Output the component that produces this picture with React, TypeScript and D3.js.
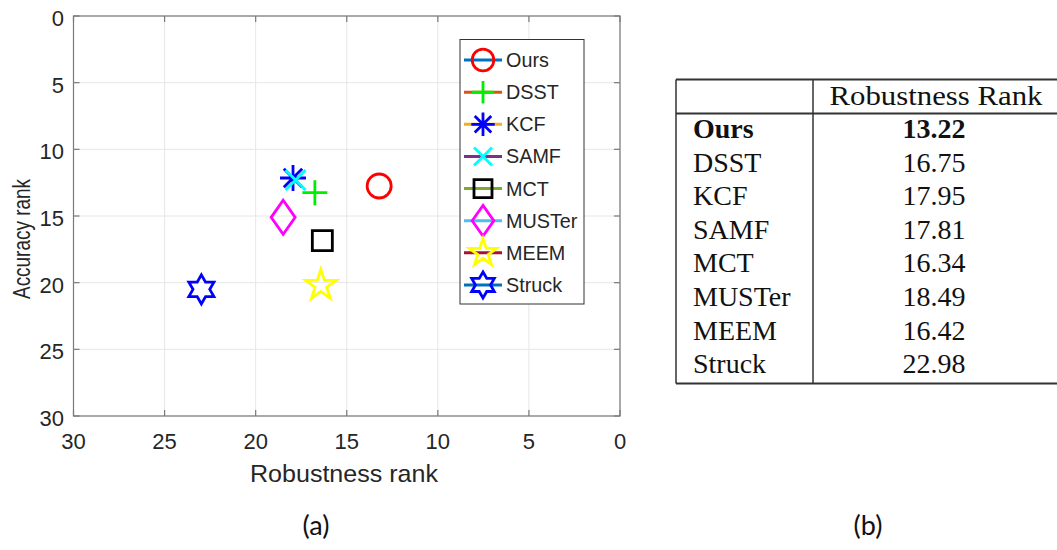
import React from "react";
import * as d3 from "d3";

// Tracker results: robustness rank (x) and accuracy rank (y)
const trackers = ["Ours", "DSST", "KCF", "SAMF", "MCT", "MUSTer", "MEEM", "Struck"];
const robustness = [13.22, 16.75, 17.95, 17.81, 16.34, 18.49, 16.42, 22.98];
const accuracy = [12.75, 13.25, 12.15, 12.3, 16.85, 15.1, 20.2, 20.5];
const markerShapes = ["circle", "plus", "asterisk", "cross", "square", "diamond", "pentagram", "hexagram"];
const markerColors = ["#ff0000", "#00ee00", "#0000ff", "#00ffff", "#000000", "#ff00ff", "#ffff00", "#0000ff"];
const lineColors = ["#0072bd", "#d95319", "#edb120", "#7e2f8e", "#77ac30", "#4dbeee", "#a2142f", "#0072bd"];
const axisTicks = [0, 5, 10, 15, 20, 25, 30];
const tableHeader = "Robustness Rank";
const panelLabels = ["(a)", "(b)"];

const W = 1057;
const H = 550;
const plot = { left: 73.5, right: 620, top: 16, bottom: 416 };

const x = d3.scaleLinear().domain([30, 0]).range([plot.left, plot.right]);
const y = d3.scaleLinear().domain([0, 30]).range([plot.top, plot.bottom]);

// Stroke-only marker shapes; the "size" passed in is used as the radius.
type Sym = d3.SymbolType;
const starPoly = (ctx: any, n: number, R: number, r: number) => {
  for (let i = 0; i < 2 * n; i++) {
    const a = -Math.PI / 2 + (i * Math.PI) / n;
    const rad = i % 2 === 0 ? R : r;
    const px = rad * Math.cos(a);
    const py = rad * Math.sin(a);
    if (i === 0) ctx.moveTo(px, py);
    else ctx.lineTo(px, py);
  }
  ctx.closePath();
};
const symbols: Record<string, Sym> = {
  circle: { draw(ctx, r) { ctx.moveTo(r, 0); ctx.arc(0, 0, r, 0, 2 * Math.PI); } },
  plus: { draw(ctx, r) { ctx.moveTo(-r, 0); ctx.lineTo(r, 0); ctx.moveTo(0, -r); ctx.lineTo(0, r); } },
  asterisk: {
    draw(ctx, r) {
      const d = r / Math.SQRT2;
      ctx.moveTo(-r, 0); ctx.lineTo(r, 0); ctx.moveTo(0, -r); ctx.lineTo(0, r);
      ctx.moveTo(-d, -d); ctx.lineTo(d, d); ctx.moveTo(-d, d); ctx.lineTo(d, -d);
    },
  },
  cross: { draw(ctx, r) { ctx.moveTo(-r, -r); ctx.lineTo(r, r); ctx.moveTo(-r, r); ctx.lineTo(r, -r); } },
  square: { draw(ctx, r) { ctx.moveTo(-r, -r); ctx.lineTo(r, -r); ctx.lineTo(r, r); ctx.lineTo(-r, r); ctx.closePath(); } },
  diamond: {
    draw(ctx, r) {
      const h = r * 1.42;
      ctx.moveTo(0, -h); ctx.lineTo(r, 0); ctx.lineTo(0, h); ctx.lineTo(-r, 0); ctx.closePath();
    },
  },
  pentagram: { draw(ctx, R) { starPoly(ctx, 5, R, R * 0.382); } },
  hexagram: { draw(ctx, R) { starPoly(ctx, 6, R, R / Math.sqrt(3)); } },
};
const markerRadius: Record<string, number> = {
  circle: 12, plus: 12.5, asterisk: 13, cross: 10, square: 10, diamond: 12, pentagram: 16, hexagram: 14.5,
};
const markerPath = (shape: string, k = 1) =>
  d3.symbol().type(symbols[shape]).size(markerRadius[shape] * k)() as string;

const AXIS = "#7a7a7a";
const GRID = "#e6e6e6";
const TEXT = "#262626";
const SANS = "'Liberation Sans', Arial, Helvetica, sans-serif";
const SERIF = "'Liberation Serif', 'Times New Roman', serif";

// legend geometry
const legend = { x0: 460, x1: 584, y0: 39.5, y1: 304, row0: 60, step: 32.14 };
// table geometry
const table = { x0: 676, sep: 813, x1: 1057, top: 79.5, head: 113.5, bottom: 383.5, row0: 129, step: 33.6, nameX: 693, valX: 934 };

export default function App() {
  return (
    <div style={{ position: "absolute", left: 0, top: 0 }}>
      <svg width={W} height={H} viewBox={`0 0 ${W} ${H}`} style={{ display: "block", background: "#fff" }}>
        <rect width={W} height={H} fill="#fff" />
        {/* grid */}
        {axisTicks.map((t) => (
          <g key={`g${t}`}>
            <line x1={x(t)} x2={x(t)} y1={plot.top} y2={plot.bottom} stroke={GRID} strokeWidth={1} />
            <line x1={plot.left} x2={plot.right} y1={y(t)} y2={y(t)} stroke={GRID} strokeWidth={1} />
          </g>
        ))}
        {/* axes box and ticks */}
        <rect x={plot.left} y={plot.top} width={plot.right - plot.left} height={plot.bottom - plot.top} fill="none" stroke={AXIS} strokeWidth={1.2} />
        {axisTicks.map((t) => (
          <g key={`t${t}`}>
            <line x1={x(t)} x2={x(t)} y1={plot.bottom} y2={plot.bottom - 6} stroke={AXIS} strokeWidth={1.2} />
            <line x1={x(t)} x2={x(t)} y1={plot.top} y2={plot.top + 6} stroke={AXIS} strokeWidth={1.2} />
            <line x1={plot.left} x2={plot.left + 6} y1={y(t)} y2={y(t)} stroke={AXIS} strokeWidth={1.2} />
            <line x1={plot.right} x2={plot.right - 6} y1={y(t)} y2={y(t)} stroke={AXIS} strokeWidth={1.2} />
            <text x={x(t)} y={plot.bottom + 33} textAnchor="middle" fontFamily={SANS} fontSize={22} fill={TEXT}>{t}</text>
            <text x={plot.left - 9.5} y={y(t) + 10} textAnchor="end" fontFamily={SANS} fontSize={22} fill={TEXT}>{t}</text>
          </g>
        ))}
        <text x={344} y={482} textAnchor="middle" fontFamily={SANS} fontSize={24.2} fill={TEXT} textLength={188} lengthAdjust="spacingAndGlyphs">Robustness rank</text>
        <text transform="translate(30,239) rotate(-90)" textAnchor="middle" fontFamily={SANS} fontSize={23.5} fill={TEXT} textLength={120} lengthAdjust="spacingAndGlyphs">Accuracy rank</text>

        {/* markers */}
        {trackers.map((name, i) => (
          <path key={`m${name}`} d={markerPath(markerShapes[i])} transform={`translate(${x(robustness[i])},${y(accuracy[i])})`}
            fill="none" stroke={markerColors[i]} strokeWidth={2.8} strokeLinejoin="miter" />
        ))}

        {/* legend */}
        <rect x={legend.x0} y={legend.y0} width={legend.x1 - legend.x0} height={legend.y1 - legend.y0} fill="#fff" stroke="#333" strokeWidth={1} />
        {trackers.map((name, i) => {
          const cy = legend.row0 + i * legend.step;
          return (
            <g key={`l${name}`}>
              <line x1={464} x2={502} y1={cy} y2={cy} stroke={lineColors[i]} strokeWidth={3} />
              <path d={markerPath(markerShapes[i], 0.9)} transform={`translate(483,${cy})`} fill="none" stroke={markerColors[i]} strokeWidth={2.8} />
              <text x={506} y={cy + 7} fontFamily={SANS} fontSize={19.8} fill={TEXT}>{name}</text>
            </g>
          );
        })}

        {/* table */}
        <g stroke="#333">
          <line x1={table.x0} x2={table.x1} y1={table.top} y2={table.top} strokeWidth={1.8} />
          <line x1={table.x0} x2={table.x1} y1={table.head} y2={table.head} strokeWidth={1.8} />
          <line x1={table.x0} x2={table.x1} y1={table.bottom} y2={table.bottom} strokeWidth={1.8} />
          <line x1={table.x0} x2={table.x0} y1={table.top} y2={table.bottom} strokeWidth={1.5} />
          <line x1={table.sep} x2={table.sep} y1={table.top} y2={table.bottom} strokeWidth={1.5} />
        </g>
        <text x={936} y={105} textAnchor="middle" fontFamily={SERIF} fontSize={28} fill="#111" textLength={213} lengthAdjust="spacingAndGlyphs">{tableHeader}</text>
        {trackers.map((name, i) => {
          const cy = table.row0 + i * table.step;
          const bold = i === 0;
          return (
            <g key={`r${name}`}>
              <text x={table.nameX} y={cy + 9} fontFamily={SERIF} fontSize={28} fontWeight={bold ? "bold" : "normal"} fill="#111">{name}</text>
              <text x={table.valX} y={cy + 9} textAnchor="middle" fontFamily={SERIF} fontSize={28} fontWeight={bold ? "bold" : "normal"} fill="#111">{robustness[i].toFixed(2)}</text>
            </g>
          );
        })}

        {/* panel captions */}
        <text x={316} y={535} textAnchor="middle" fontFamily="Lato, 'Open Sans', sans-serif" fontSize={27} fill="#111">{panelLabels[0]}</text>
        <text x={868} y={535} textAnchor="middle" fontFamily="Lato, 'Open Sans', sans-serif" fontSize={27} fill="#111">{panelLabels[1]}</text>
      </svg>
    </div>
  );
}
